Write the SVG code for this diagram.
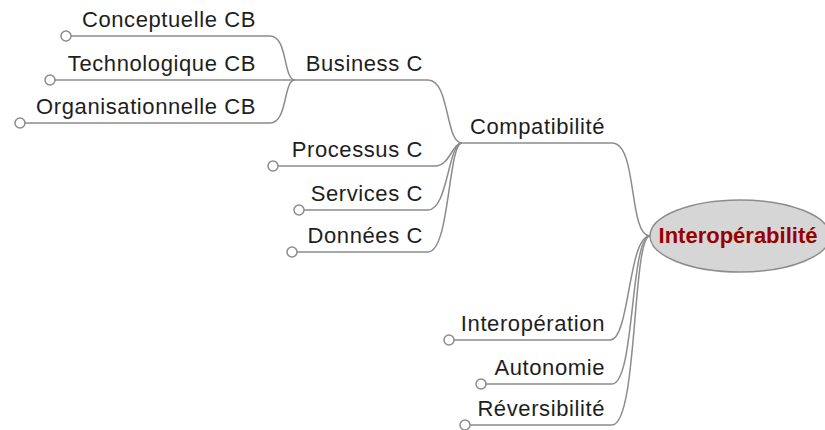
<svg xmlns="http://www.w3.org/2000/svg" width="825" height="430" viewBox="0 0 825 430">
<style>
.lbl{font-family:"Liberation Sans",Arial,sans-serif;font-size:22px;letter-spacing:0.6px;fill:#1e1e1e;text-anchor:end}
.root{font-family:"Liberation Sans",Arial,sans-serif;font-size:22px;font-weight:bold;fill:#990000;text-anchor:middle}
.edge{fill:none;stroke:#8c8c8c;stroke-width:1.5}
.knob{fill:#ffffff;stroke:#8c8c8c;stroke-width:1.5}
</style>
<rect width="825" height="430" fill="#ffffff"/>
<g id="connectors">
<path class="edge" d="M460 143 H612 C638 143 628 236 650 236"/>
<path class="edge" d="M449 340 H610 C630 340 628 236 650 236"/>
<path class="edge" d="M481 384 H612 C635 384 630 236 650 236"/>
<path class="edge" d="M465 425 H612 C638 425 632 236 650 236"/>
<path class="edge" d="M293 80 H428 C450 80 445 143 462 143"/>
<path class="edge" d="M273 166 H435 C450 166 452 143 462 143"/>
<path class="edge" d="M299 210 H428 C448 210 448 143 462 143"/>
<path class="edge" d="M292 252 H428 C450 252 448 143 462 143"/>
<path class="edge" d="M66 36 H270 C288 36 283 80 295 80"/>
<path class="edge" d="M50 80 H295"/>
<path class="edge" d="M20 123 H270 C288 123 283 80 295 80"/>
</g>
<g id="n-root">
<ellipse cx="740" cy="236" rx="90" ry="36" fill="#d6d6d6" stroke="#8c8c8c" stroke-width="1.5"/>
<text class="root" x="738" y="243">Interopérabilité</text>
</g>
<g id="n-compat"><text class="lbl" x="605" y="134">Compatibilité</text></g>
<g id="n-business"><text class="lbl" x="423" y="71">Business C</text></g>
<g id="n-conceptuelle"><circle class="knob" cx="66" cy="36" r="5"/><text class="lbl" x="256" y="27">Conceptuelle CB</text></g>
<g id="n-technologique"><circle class="knob" cx="50" cy="80" r="5"/><text class="lbl" x="256" y="71">Technologique CB</text></g>
<g id="n-organisationnelle"><circle class="knob" cx="20" cy="123" r="5"/><text class="lbl" x="256" y="114">Organisationnelle CB</text></g>
<g id="n-processus"><circle class="knob" cx="273" cy="166" r="5"/><text class="lbl" x="423" y="157">Processus C</text></g>
<g id="n-services"><circle class="knob" cx="299" cy="210" r="5"/><text class="lbl" x="423" y="201">Services C</text></g>
<g id="n-donnees"><circle class="knob" cx="292" cy="252" r="5"/><text class="lbl" x="423" y="243">Données C</text></g>
<g id="n-interoperation"><circle class="knob" cx="449" cy="340" r="5"/><text class="lbl" x="605" y="331">Interopération</text></g>
<g id="n-autonomie"><circle class="knob" cx="481" cy="384" r="5"/><text class="lbl" x="605" y="375">Autonomie</text></g>
<g id="n-reversibilite"><circle class="knob" cx="465" cy="425" r="5"/><text class="lbl" x="605" y="416">Réversibilité</text></g>
</svg>
